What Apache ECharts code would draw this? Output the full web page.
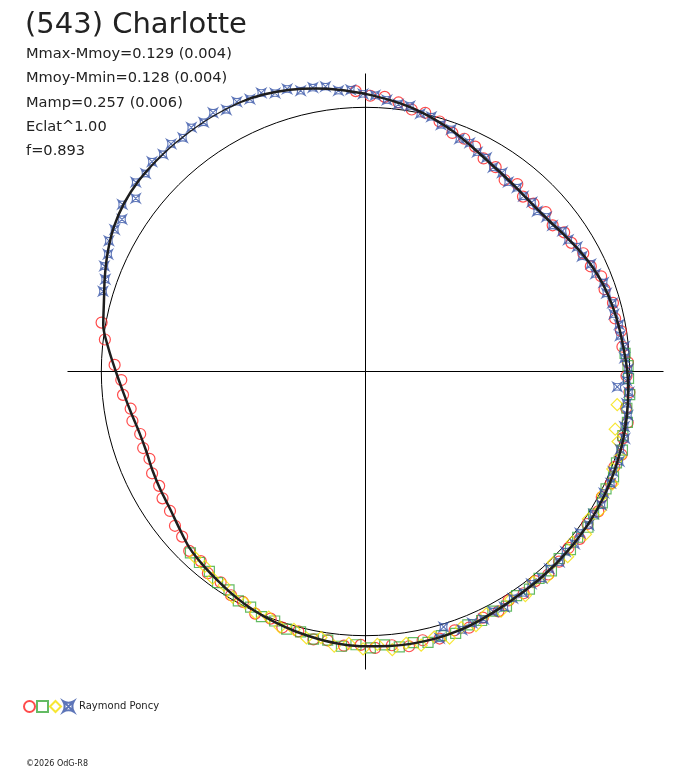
<!DOCTYPE html>
<html>
<head>
<meta charset="utf-8">
<script src="https://cdn.jsdelivr.net/npm/echarts@6/dist/echarts.min.js"></script>
<style>
html,body{margin:0;padding:0;background:#fff;}
#chart{width:688px;height:768px;}
</style>
</head>
<body>
<div id="chart"></div>
<script>
// Rotational phase (degrees, clockwise from top) and magnitude offset from the mean (positive = outward)
const titleText = '(543) Charlotte';
const statLines = ['Mmax-Mmoy=0.129 (0.004)', 'Mmoy-Mmin=0.128 (0.004)', 'Mamp=0.257 (0.006)', 'Eclat^1.00', 'f=0.893'];
const observerName = 'Raymond Poncy';
const copyrightText = '\u00a92026 OdG-R8';

const fitCurve = [[0,0.051],[5,0.032],[10,0.013],[15,-0.009],[20,-0.032],[25,-0.057],[30,-0.078],[35,-0.092],[40,-0.101],[45,-0.106],[50,-0.102],[55,-0.089],[60,-0.072],[65,-0.055],[70,-0.042],[75,-0.033],[80,-0.026],[85,-0.019],[90,-0.009],[95,-0.002],[100,0.004],[105,0.009],[110,0.013],[115,0.017],[120,0.020],[125,0.022],[130,0.023],[135,0.024],[140,0.025],[145,0.026],[150,0.030],[155,0.036],[160,0.042],[165,0.045],[170,0.045],[175,0.043],[180,0.040],[185,0.036],[190,0.028],[195,0.019],[200,0.009],[205,-0.002],[210,-0.015],[215,-0.030],[220,-0.043],[225,-0.057],[230,-0.079],[235,-0.096],[240,-0.104],[245,-0.111],[250,-0.117],[255,-0.113],[260,-0.099],[265,-0.080],[270,-0.055],[275,-0.024],[280,0.008],[285,0.025],[290,0.050],[295,0.076],[300,0.099],[305,0.114],[310,0.122],[315,0.125],[320,0.127],[325,0.128],[330,0.128],[335,0.125],[340,0.117],[345,0.104],[350,0.088],[355,0.070],[360,0.051]];

const redObs = [[358,0.062],[1,0.044],[4,0.042],[7,0.026],[10,0.007],[13,0.005],[16.5,-0.013],[20,-0.039],[23,-0.043],[26,-0.053],[29,-0.078],[32.5,-0.083],[36,-0.104],[39,-0.087],[42,-0.109],[45,-0.101],[48.5,-0.089],[52,-0.101],[55,-0.082],[58,-0.081],[61.5,-0.062],[65,-0.059],[68,-0.038],[71,-0.043],[74.5,-0.028],[78,-0.034],[81,-0.021],[84.5,-0.023],[88,-0.006],[91,-0.012],[94.5,0.002],[98,-0.004],[101,0.011],[104.5,0.007],[108,0.019],[111,0.009],[114.5,0.021],[118,0.013],[121,0.028],[124.5,0.019],[128,0.029],[131,0.018],[134.5,0.027],[138,0.034],[141,0.021],[144.5,0.031],[148,0.022],[151,0.038],[154.5,0.032],[158,0.046],[161,0.036],[164.5,0.049],[168,0.040],[171,0.053],[174.5,0.041],[178,0.047],[181,0.035],[184.5,0.041],[188,0.028],[191,0.033],[194.5,0.016],[198,0.019],[201,0.002],[204.5,0.007],[208,-0.012],[211,-0.012],[214.5,-0.032],[218,-0.031],[221,-0.049],[224.5,-0.048],[228,-0.066],[231,-0.072],[234.5,-0.091],[238,-0.094],[241,-0.107],[244.5,-0.105],[248,-0.118],[251,-0.110],[254.5,-0.115],[258,-0.098],[261,-0.100],[264.5,-0.078],[268,-0.075],[271.5,-0.050],[277,-0.006],[280.5,0.016]];

const greenObs = [[86,-0.015],[88.7,-0.006],[91.5,-0.004],[95,0.004],[98,-0.001],[101,0.010],[104,0.004],[107,0.017],[110,0.011],[113,0.020],[116,0.013],[119,0.025],[122,0.018],[125,0.028],[128,0.019],[131,0.028],[134,0.019],[137,0.032],[140,0.022],[143,0.031],[146,0.023],[149,0.036],[152,0.027],[155,0.040],[158,0.034],[161,0.048],[164,0.040],[167,0.052],[170,0.042],[173,0.050],[176,0.037],[179,0.046],[182,0.035],[185,0.044],[188,0.027],[191,0.032],[194,0.016],[197,0.020],[200,0.005],[203,0.008],[206,-0.008],[209,-0.007],[212,-0.025],[215,-0.024],[218,-0.040],[221,-0.042],[224,-0.046]];

const yellowObs = [[97.5,-0.039],[103,-0.030],[105.5,-0.008],[108.5,0.016],[111.5,0.006],[114.5,0.027],[117.5,0.012],[120.5,0.032],[123.5,0.012],[126.5,0.036],[129.5,0.015],[132.5,0.038],[135.5,0.014],[138.5,0.038],[141.5,0.018],[144.5,0.042],[147.5,0.022],[150.5,0.042],[153.5,0.025],[156.5,0.049],[159.5,0.035],[162.5,0.058],[165.5,0.038],[168.5,0.057],[171.5,0.040],[174.5,0.058],[177.5,0.034],[180.5,0.050],[183.5,0.031],[186.5,0.046],[189.5,0.021],[192.5,0.033],[195.5,0.013],[198.5,0.020],[201.5,-0.001],[204.5,0.005],[207.5,-0.012],[210.5,-0.009],[213.5,-0.030],[216.5,-0.027],[219.5,-0.044],[222.5,-0.045]];

const blueObs = [[287,0.039],[289.5,0.045],[292,0.066],[294.5,0.071],[297,0.090],[299.5,0.091],[302,0.087],[304.5,0.117],[307,0.089],[309.5,0.127],[312,0.120],[314.5,0.133],[317,0.124],[319.5,0.133],[322,0.123],[324.5,0.135],[327,0.125],[329.5,0.137],[332,0.122],[334.5,0.131],[337,0.120],[339.5,0.126],[342,0.108],[344.5,0.110],[347,0.091],[349.5,0.093],[352,0.089],[354.5,0.068],[357,0.068],[359.5,0.051],[2,0.046],[4.5,0.031],[7,0.019],[9.5,0.019],[12,-0.002],[14.5,-0.004],[17,-0.023],[19.5,-0.028],[22,-0.050],[24.5,-0.049],[27,-0.068],[29.5,-0.070],[32,-0.089],[34.5,-0.087],[37,-0.102],[39.5,-0.098],[42,-0.107],[44.5,-0.101],[47,-0.111],[49.5,-0.099],[52,-0.102],[54.5,-0.084],[57,-0.085],[59.5,-0.070],[62,-0.071],[64.5,-0.055],[67,-0.054],[69.5,-0.038],[72,-0.041],[74.5,-0.030],[77,-0.035],[79.5,-0.024],[82,-0.027],[84.5,-0.015],[87,-0.018],[89.5,-0.006],[92,-0.011],[93.5,-0.045],[94.5,0.000],[97,-0.004],[99.5,0.007],[102,0.002],[104.5,0.014],[107,0.008],[109.5,0.019],[112,0.011],[114.5,0.020],[117,0.013],[119.5,0.026],[122,0.018],[124.5,0.026],[127,0.016],[129.5,0.026],[132,0.019],[134.5,0.029],[137,0.021],[139.5,0.029],[142,0.020],[144.5,0.029],[147,0.024],[149.5,0.035],[152,0.029],[154.5,0.039],[157,0.034],[159.5,0.044],[163,0.011],[164.5,0.048]];

// reference circle = mean magnitude (radius 1); axis extends to 1 + (Mmax-Mmoy)
const radiusMax = 1.128;
const toPolar = arr => arr.map(p => [1 + p[1], p[0]]);

const FONT = 'DejaVu Sans';
const starPath = 'path://M0,0 Q5,3 10,0 Q7,5 10,10 Q5,7 0,10 Q3,5 0,0 Z M0,0 L10,10 M10,0 L0,10';

const chart = echarts.init(document.getElementById('chart'), null, {renderer: 'canvas'});
chart.setOption({
  animation: false,
  backgroundColor: '#fff',
  title: [
    {text: titleText, left: 25, top: 11, padding: 0,
     textStyle: {fontFamily: FONT, fontSize: 29, fontWeight: 'normal', color: '#222'}},
    {text: statLines.join('\n'), left: 26, top: 42, padding: 0,
     textStyle: {fontFamily: FONT, fontSize: 14.6, fontWeight: 'normal', color: '#222', lineHeight: 24.3}},
    {text: copyrightText, left: 26, top: 760, padding: 0,
     textStyle: {fontFamily: FONT, fontSize: 8, fontWeight: 'normal', color: '#222'}}
  ],
  legend: {
    left: 23, top: 700, padding: 0, itemWidth: 11, itemHeight: 11, itemGap: 0,
    selectedMode: false,
    data: ['obsA', 'obsB', 'obsC', observerName],
    formatter: name => name === observerName ? name : '',
    textStyle: {fontFamily: FONT, fontSize: 10, color: '#222'}
  },
  polar: {center: [365.5, 371.5], radius: 298},
  angleAxis: {
    type: 'value', min: 0, max: 360, interval: 90, startAngle: 90, clockwise: true,
    axisLine: {show: false}, axisTick: {show: false}, axisLabel: {show: false},
    splitLine: {show: true, lineStyle: {color: '#000', width: 1}}
  },
  radiusAxis: {
    type: 'value', min: 0, max: radiusMax, interval: 1,
    axisLine: {show: false}, axisTick: {show: false}, axisLabel: {show: false},
    splitLine: {show: true, lineStyle: {color: ['rgba(0,0,0,0)', '#000', 'rgba(0,0,0,0)'], width: 1}}
  },
  series: [
    {name: 'obsA', type: 'scatter', coordinateSystem: 'polar', clip: false, data: toPolar(redObs),
     symbol: 'circle', symbolSize: 11,
     itemStyle: {color: 'rgba(0,0,0,0)', borderColor: '#ff1e1e', borderWidth: 1.2}},
    {name: 'obsB', type: 'scatter', coordinateSystem: 'polar', clip: false, data: toPolar(greenObs),
     symbol: 'rect', symbolSize: 10,
     itemStyle: {color: 'rgba(0,0,0,0)', borderColor: '#3caa3c', borderWidth: 1.2}},
    {name: 'obsC', type: 'scatter', coordinateSystem: 'polar', clip: false, data: toPolar(yellowObs),
     symbol: 'diamond', symbolSize: 12,
     itemStyle: {color: 'rgba(0,0,0,0)', borderColor: '#f5e000', borderWidth: 1.2}},
    {name: observerName, type: 'scatter', coordinateSystem: 'polar', clip: false, data: toPolar(blueObs),
     symbol: starPath, symbolSize: 9,
     itemStyle: {color: 'rgba(0,0,0,0)', borderColor: '#3452a6', borderWidth: 1.1}},
    {name: 'fit', type: 'line', coordinateSystem: 'polar', clip: false, data: toPolar(fitCurve),
     smooth: 0.3, symbol: 'none', z: 5,
     lineStyle: {color: '#1e1e1e', width: 2.5}}
  ]
});
</script>
</body>
</html>
